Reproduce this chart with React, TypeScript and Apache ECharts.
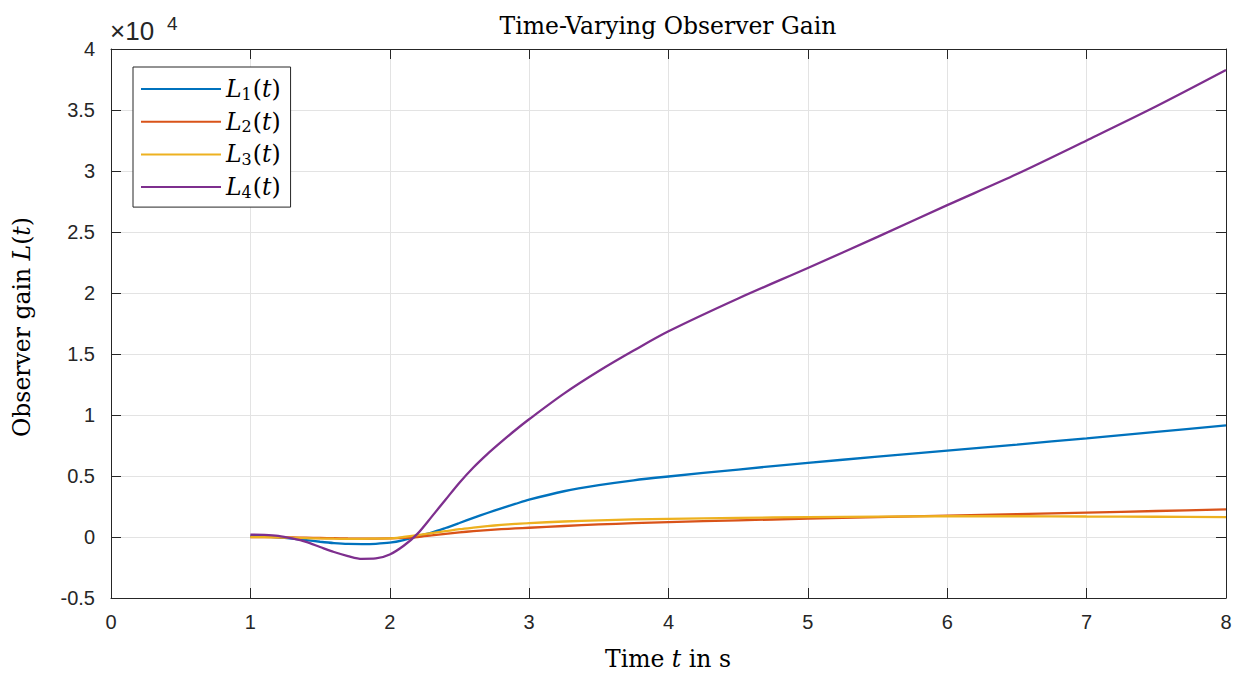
import React, { useEffect, useRef } from "react";
import * as echarts from "echarts";

const timeS = [1, 1.1, 1.2, 1.3, 1.4, 1.5, 1.6, 1.7, 1.8, 1.9, 2, 2.1, 2.2, 2.3, 2.4, 2.5, 2.6, 2.7, 2.8, 2.9, 3, 3.25, 3.5, 3.75, 4, 4.5, 5, 5.5, 6, 6.5, 7, 7.5, 8];
const gainL1 = [100, 60, -20, -130, -260, -390, -500, -570, -580, -560, -470, -250, 60, 360, 740, 1150, 1570, 1970, 2350, 2710, 3060, 3750, 4250, 4650, 4960, 5530, 6080, 6580, 7080, 7580, 8090, 8620, 9150];
const gainL2 = [0, -10, -20, -40, -60, -80, -100, -120, -130, -130, -120, -80, 0, 130, 260, 380, 480, 570, 640, 700, 760, 900, 1030, 1130, 1220, 1370, 1500, 1630, 1750, 1880, 2000, 2130, 2260];
const gainL3 = [0, -10, -30, -60, -90, -120, -140, -150, -150, -130, -120, 0, 150, 320, 480, 640, 770, 890, 990, 1070, 1140, 1270, 1370, 1440, 1490, 1570, 1630, 1670, 1700, 1700, 1680, 1660, 1630];
const gainL4 = [190, 170, 90, -120, -400, -820, -1230, -1560, -1790, -1760, -1430, -720, 280, 1650, 3050, 4450, 5700, 6800, 7800, 8750, 9650, 11750, 13600, 15280, 16860, 19550, 22050, 24600, 27200, 29750, 32500, 35300, 38270];

const seriesNames = ["L1(t)", "L2(t)", "L3(t)", "L4(t)"];
const seriesColors = ["#0072BD", "#D95319", "#EDB120", "#7E2F8E"];
const seriesValues = [gainL1, gainL2, gainL3, gainL4];

const xTicks = { min: 0, max: 8, interval: 1 };
const yTicks = { min: -5000, max: 40000, interval: 5000 };

const SERIF = "'DejaVu Serif', 'Liberation Serif', serif";
const SANS = "'Liberation Sans', Arial, Helvetica, sans-serif";
const AXIS = "#262626";
const FS = 23.5;

export default function App() {
  const ref = useRef<HTMLDivElement>(null);
  useEffect(() => {
    if (!ref.current) return;
    const chart = echarts.init(ref.current, null, { renderer: "svg" });
    const grid = { left: 111, right: 14, top: 49, bottom: 75 };
    const tickCommon = { show: true, inside: true, length: 10, lineStyle: { color: AXIS, width: 1 } };
    const lineCommon = { show: true, onZero: false, lineStyle: { color: AXIS, width: 1 } };
    chart.setOption({
      animation: false,
      backgroundColor: "#ffffff",
      grid,
      xAxis: [
        {
          type: "value", ...xTicks, position: "bottom",
          axisLine: lineCommon, axisTick: tickCommon,
          axisLabel: { color: AXIS, fontSize: 20, fontFamily: SANS, margin: 14 },
          splitLine: { show: true, lineStyle: { color: "#e3e3e3", width: 1 } },
        },
        {
          type: "value", ...xTicks, position: "top",
          axisLine: lineCommon, axisTick: tickCommon,
          axisLabel: { show: false }, splitLine: { show: false },
        },
      ],
      yAxis: [
        {
          type: "value", ...yTicks, position: "left",
          axisLine: lineCommon, axisTick: tickCommon,
          axisLabel: { color: AXIS, fontSize: 20, fontFamily: SANS, margin: 16, formatter: (v: number) => String(v / 10000) },
          splitLine: { show: true, lineStyle: { color: "#e3e3e3", width: 1 } },
        },
        {
          type: "value", ...yTicks, position: "right",
          axisLine: lineCommon, axisTick: tickCommon,
          axisLabel: { show: false }, splitLine: { show: false },
        },
      ],
      legend: {
        orient: "vertical",
        left: 133,
        top: 67,
        icon: "rect",
        itemWidth: 80,
        itemHeight: 2,
        itemGap: 6.7,
        padding: [9, 10, 7, 8],
        backgroundColor: "#ffffff",
        borderColor: AXIS,
        borderWidth: 1,
        borderRadius: 0,
        data: seriesNames,
        formatter: (name: string) => `{i|L}{s|${name.charAt(1)}}{n|(}{i|t}{n|)}`,
        textStyle: {
          color: "#000",
          fontFamily: SERIF,
          fontSize: FS,
          rich: {
            i: { fontStyle: "italic", fontFamily: SERIF, fontSize: FS, lineHeight: 26, color: "#000" },
            n: { fontFamily: SERIF, fontSize: FS, lineHeight: 26, color: "#000" },
            s: { fontFamily: SERIF, fontSize: 16, lineHeight: 16, padding: [10, 1, 0, 0], color: "#000" },
          },
        },
      },
      graphic: [
        {
          type: "text", x: 668, y: 26,
          style: { text: "Time-Varying Observer Gain", font: `${FS}px ${SERIF}`, fill: "#000", align: "center", verticalAlign: "middle" },
        },
        {
          type: "text", x: 668, y: 659,
          style: {
            text: "{n|Time }{i|t}{n| in s}", align: "center", verticalAlign: "middle", fill: "#000",
            rich: {
              n: { fontFamily: SERIF, fontSize: FS, fill: "#000" },
              i: { fontFamily: SERIF, fontSize: FS, fontStyle: "italic", fill: "#000" },
            },
          },
        },
        {
          type: "text", x: 22, y: 327, rotation: Math.PI / 2,
          style: {
            text: "{n|Observer gain }{i|L}{n|(}{i|t}{n|)}", align: "center", verticalAlign: "middle", fill: "#000",
            rich: {
              n: { fontFamily: SERIF, fontSize: FS, fill: "#000" },
              i: { fontFamily: SERIF, fontSize: FS, fontStyle: "italic", fill: "#000" },
            },
          },
        },
        {
          type: "text", x: 110, y: 31,
          style: { text: "×10", font: `26px ${SANS}`, fill: AXIS, align: "left", verticalAlign: "middle" },
        },
        {
          type: "text", x: 167, y: 23,
          style: { text: "4", font: `19px ${SANS}`, fill: AXIS, align: "left", verticalAlign: "middle" },
        },
      ],
      series: seriesValues.map((vals, k) => ({
        name: seriesNames[k],
        type: "line",
        xAxisIndex: 0,
        yAxisIndex: 0,
        showSymbol: false,
        symbol: "none",
        smooth: 0.3,
        color: seriesColors[k],
        lineStyle: { color: seriesColors[k], width: 2.3 },
        data: timeS.map((t, i) => [t, vals[i]]),
      })),
    });
    return () => chart.dispose();
  }, []);
  return <div ref={ref} style={{ position: "absolute", left: 0, top: 0, width: 1240, height: 673 }} />;
}
